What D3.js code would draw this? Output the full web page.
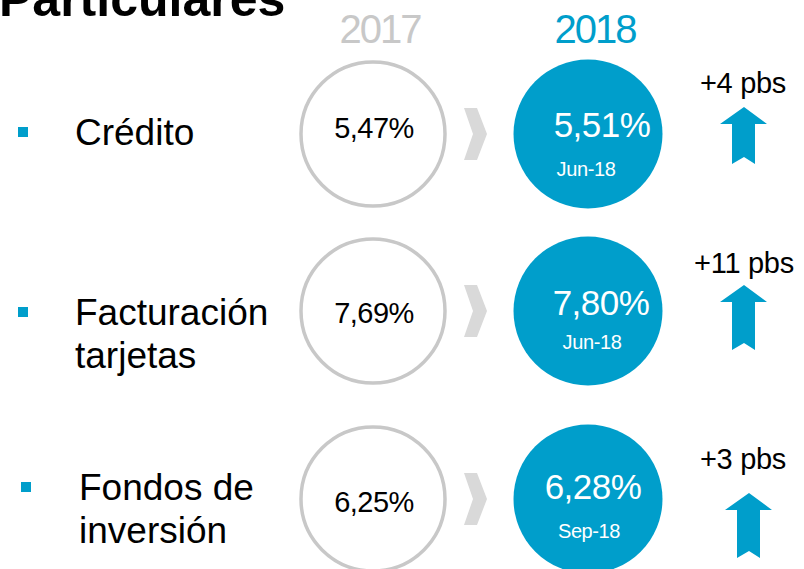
<!DOCTYPE html>
<html lang="es">
<head>
    <meta charset="utf-8">
    <script src="https://d3js.org/d3.v7.min.js"></script>
    <style>
        body { margin: 0; background: #fff; }
        text { font-family: "Liberation Sans", Arial, sans-serif; }
    </style>
</head>
<body>
    <script type="text/javascript">

        let w = 804;
        let h = 569;

        // data
        let title = "Particulares";
        let years = ["2017", "2018"];
        let categories = [["Crédito"], ["Facturación", "tarjetas"], ["Fondos de", "inversión"]];
        let values2017 = [5.47, 7.69, 6.25];
        let values2018 = [5.51, 7.80, 6.28];
        let periods2018 = ["Jun-18", "Jun-18", "Sep-18"];

        let blue = "#009ecb";
        let grey = "#c8c8c8";

        let svg = d3.select("body").append("svg")
                    .attr("width", w)
                    .attr("height", h);

        let rowKeys = categories.map(function(d) { return d.join(" "); });

        // row centres (the rows are not evenly spaced in the original)
        let y = d3.scaleOrdinal().domain(rowKeys).range([134, 311, 499]);
        let x = d3.scaleOrdinal().domain(years).range([373, 588]);
        let r = 72;

        let locale = d3.formatLocale({decimal: ",", thousands: ".", grouping: [3], currency: ["", "€"]});
        let fmt = locale.format(".2f");

        let rows = rowKeys.map(function(k, i) {
            return {
                key: k,
                lines: categories[i],
                v17: values2017[i],
                v18: values2018[i],
                period: periods2018[i],
                bps: Math.round((values2018[i] - values2017[i]) * 100),
                arrowDy: [-27, -26, -6][i],
                arrowLen: [57, 65, 65][i],
                labelDy: [-41, -38, -30][i]
            };
        });

        // title
        svg.append("text")
            .attr("x", -1)
            .attr("y", 16)
            .attr("font-size", 50)
            .attr("font-weight", "bold")
            .attr("fill", "#000")
            .text(title);

        // year headers
        svg.selectAll("text.year")
            .data(years)
            .join("text")
                .attr("class", "year")
                .attr("x", function(d) { return x(d) + 7; })
                .attr("y", 43)
                .attr("text-anchor", "middle")
                .attr("font-size", 40)
                .attr("letter-spacing", -2)
                .attr("fill", function(d, i) { return i == 0 ? grey : blue; })
                .text(function(d) { return d; });

        let g = svg.selectAll("g.row")
                    .data(rows)
                    .join("g")
                        .attr("class", "row")
                        .attr("transform", function(d) { return "translate(0," + y(d.key) + ")"; });

        // bullets + labels
        g.append("rect")
            .attr("x", function(d, i) { return i == 2 ? 21 : 18; })
            .attr("y", function(d, i) { return [-7, -4, -17][i]; })
            .attr("width", 10)
            .attr("height", 10)
            .attr("fill", blue);

        g.each(function(d, i) {
            let t = d3.select(this).append("text")
                .attr("x", i == 2 ? 79 : 75)
                .attr("y", [11, 14, 1][i])
                .attr("font-size", 37)
                .attr("fill", "#000");
            t.selectAll("tspan")
                .data(d.lines)
                .join("tspan")
                    .attr("x", i == 2 ? 79 : 75)
                    .attr("dy", function(l, j) { return j == 0 ? 0 : 43; })
                    .text(function(l) { return l; });
        });

        // 2017 circle
        g.append("circle")
            .attr("cx", x("2017"))
            .attr("cy", 0)
            .attr("r", r)
            .attr("fill", "#fff")
            .attr("stroke", grey)
            .attr("stroke-width", 3.5);

        g.append("text")
            .attr("x", x("2017") + 1)
            .attr("y", function(d, i) { return [4, 12, 13][i]; })
            .attr("text-anchor", "middle")
            .attr("font-size", 29)
            .attr("letter-spacing", -0.5)
            .attr("fill", "#000")
            .text(function(d) { return fmt(d.v17) + "%"; });

        // chevron
        g.append("path")
            .attr("d", "M464,-26 L477,-26 L487,0 L477,26 L464,26 L473,0 Z")
            .attr("fill", "#d9d9d9");

        // 2018 circle
        g.append("circle")
            .attr("cx", x("2018"))
            .attr("cy", 0)
            .attr("r", r + 2.5)
            .attr("fill", blue);

        g.append("text")
            .attr("x", function(d, i) { return x("2018") + [14, 13, 5][i]; })
            .attr("y", function(d, i) { return [3, 4, 0][i]; })
            .attr("text-anchor", "middle")
            .attr("font-size", 35)
            .attr("letter-spacing", -0.5)
            .attr("fill", "#fff")
            .text(function(d) { return fmt(d.v18) + "%"; });

        g.append("text")
            .attr("x", function(d, i) { return x("2018") + [-2, 4, 1][i]; })
            .attr("y", function(d, i) { return [42, 38, 39][i]; })
            .attr("text-anchor", "middle")
            .attr("font-size", 20)
            .attr("letter-spacing", -0.4)
            .attr("fill", "#fff")
            .text(function(d) { return d.period; });

        // change label + arrow
        g.append("text")
            .attr("x", function(d, i) { return i == 1 ? 744 : 743; })
            .attr("y", function(d) { return d.labelDy; })
            .attr("text-anchor", "middle")
            .attr("font-size", 29)
            .attr("letter-spacing", -0.3)
            .attr("fill", "#000")
            .text(function(d) { return "+" + d.bps + " pbs"; });

        g.append("path")
            .attr("transform", function(d, i) {
                return "translate(" + (i == 2 ? 749 : 744) + "," + d.arrowDy + ")";
            })
            .attr("d", function(d) {
                let L = d.arrowLen;
                return "M0,0 L23,17 L11,17 L11," + L + " L0," + (L - 7) +
                       " L-12," + L + " L-12,17 L-24,17 Z";
            })
            .attr("fill", blue);

    </script>
</body>
</html>
